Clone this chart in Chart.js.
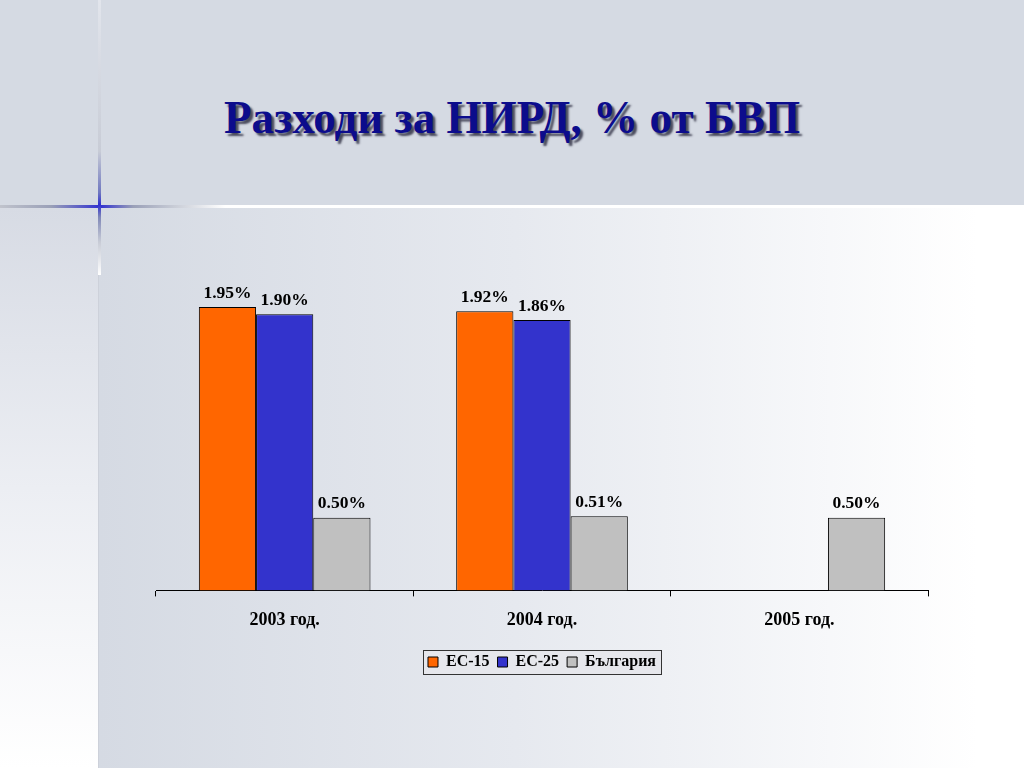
<!DOCTYPE html>
<html>
<head>
<meta charset="utf-8">
<script src="https://cdn.jsdelivr.net/npm/chart.js@4.4.1/dist/chart.umd.min.js"></script>
<style>
html,body{margin:0;padding:0;width:1024px;height:768px;overflow:hidden;}
body{position:relative;background:#d5dae3;font-family:"Liberation Serif",serif;}
#top{position:absolute;left:0;top:0;width:1024px;height:205px;background:#d5dae3;}
#lower{position:absolute;left:99px;top:208px;width:925px;height:560px;background:linear-gradient(to right,#d5dae3 0%,#e6e9ef 45%,#ffffff 95%);}
#lowerleft{position:absolute;left:0;top:208px;width:98px;height:560px;background:linear-gradient(to bottom,#d7dbe4 0%,#eceef3 50%,#ffffff 100%);}
#sep{position:absolute;left:98px;top:208px;width:1px;height:560px;background:#cdd1da;}
#hline{position:absolute;left:0;top:205px;width:1024px;height:3px;background:linear-gradient(to right,#c0c3cc 0%,#9aa0b8 5%,#3030d0 9.8%,#9aa0b8 13%,#c8ccd6 17%,#ffffff 22%,#ffffff 100%);}
#vline{position:absolute;left:98px;top:0;width:3px;height:275px;background:linear-gradient(to bottom,#e2e5ec 0%,#c8ccd6 55%,#7078c0 70%,#3030d0 74.5%,#8088b8 79%,#c8ccd6 88%,#ffffff 100%);}
#title{position:absolute;left:224px;top:95px;white-space:nowrap;font-family:"Liberation Serif",serif;font-weight:bold;font-size:46px;line-height:46px;color:#0c0c8c;text-shadow:3px 3px 2px rgba(40,40,60,0.8);transform-origin:0 0;}
#wrap{position:absolute;left:0;top:0;width:1024px;height:768px;}
</style>
</head>
<body>
<div id="top"></div>
<div id="lowerleft"></div>
<div id="lower"></div>
<div id="sep"></div>
<div id="hline"></div>
<div id="vline"></div>
<div id="title">Разходи за НИРД, % от БВП</div>
<div id="wrap"><canvas id="c" width="1024" height="768"></canvas></div>
<script>
const categories = ["2003 год.", "2004 год.", "2005 год."];
const seriesNames = ["ЕС-15", "ЕС-25", "България"];
const ec15 = [1.95, 1.92, null];
const ec25 = [1.90, 1.86, null];
const bulgaria = [0.50, 0.51, 0.50];
const valueLabels = [
  ["1.95%", "1.92%", ""],
  ["1.90%", "1.86%", ""],
  ["0.50%", "0.51%", "0.50%"]
];

// fit title width
(function(){
  const t = document.getElementById('title');
  const w = t.getBoundingClientRect().width;
  t.style.transform = 'scaleX(' + (576 / w) + ')';
})();

const tickFont = {family: "'Liberation Serif', serif", size: 18, weight: 'bold'};
const legendFont = {family: "'Liberation Serif', serif", size: 16, weight: 'bold'};

const dataLabelPlugin = {
  id: 'dataLabels',
  afterDatasetsDraw(chart) {
    const ctx = chart.ctx;
    ctx.save();
    ctx.font = 'bold 17.5px "Liberation Serif", serif';
    ctx.fillStyle = '#000';
    ctx.textAlign = 'center';
    ctx.textBaseline = 'bottom';
    chart.data.datasets.forEach((ds, i) => {
      const meta = chart.getDatasetMeta(i);
      meta.data.forEach((bar, j) => {
        const v = ds.data[j];
        if (v === null || v === undefined) return;
        ctx.fillText(valueLabels[i][j], bar.x, bar.y - 5);
      });
    });
    ctx.restore();
  }
};

const legendBoxPlugin = {
  id: 'legendBox',
  beforeDraw(chart) {
    const lg = chart.legend;
    if (!lg || !lg.legendHitBoxes || !lg.legendHitBoxes.length) return;
    const hb = lg.legendHitBoxes;
    const x0 = hb[0].left - 5;
    const x1 = hb[hb.length - 1].left + hb[hb.length - 1].width + 5;
    const y0 = hb[0].top - 4;
    const y1 = hb[0].top + hb[0].height + 4;
    const ctx = chart.ctx;
    ctx.save();
    ctx.fillStyle = '#e6e7ec';
    ctx.fillRect(x0, y0, x1 - x0, y1 - y0);
    ctx.strokeStyle = '#333';
    ctx.lineWidth = 1;
    ctx.strokeRect(Math.round(x0) + 0.5, Math.round(y0) + 0.5, Math.round(x1 - x0), Math.round(y1 - y0));
    ctx.restore();
  }
};

new Chart(document.getElementById('c'), {
  type: 'bar',
  data: {
    labels: categories,
    datasets: [
      {label: seriesNames[0], data: ec15, backgroundColor: '#ff6600', borderColor: '#000', borderWidth: 1},
      {label: seriesNames[1], data: ec25, backgroundColor: '#3333cc', borderColor: '#000', borderWidth: 1},
      {label: seriesNames[2], data: bulgaria, backgroundColor: '#c0c0c0', borderColor: '#000', borderWidth: 1}
    ]
  },
  options: {
    responsive: false,
    animation: false,
    devicePixelRatio: 1,
    layout: {padding: {left: 156, right: 96, top: 227, bottom: 88}},
    datasets: {bar: {categoryPercentage: 0.667, barPercentage: 1.0}},
    scales: {
      x: {
        grid: {offset: true, drawOnChartArea: false, drawTicks: true, tickLength: 6, color: '#000'},
        border: {display: true, color: '#000', width: 1},
        ticks: {color: '#000', font: tickFont, padding: 13},
        afterFit(scale) { scale.height += 2; }
      },
      y: {display: false, min: 0, max: 2.5}
    },
    plugins: {
      legend: {
        position: 'bottom',
        labels: {boxWidth: 10, boxHeight: 10, color: '#000', font: legendFont, padding: 8,
          generateLabels(chart) {
            return chart.data.datasets.map((ds, i) => ({
              text: ds.label, fillStyle: ds.backgroundColor, strokeStyle: '#000', lineWidth: 1,
              hidden: false, datasetIndex: i, fontColor: '#000'
            }));
          }
        }
      },
      title: {display: false},
      tooltip: {enabled: false}
    }
  },
  plugins: [dataLabelPlugin, legendBoxPlugin]
});
</script>
</body>
</html>
